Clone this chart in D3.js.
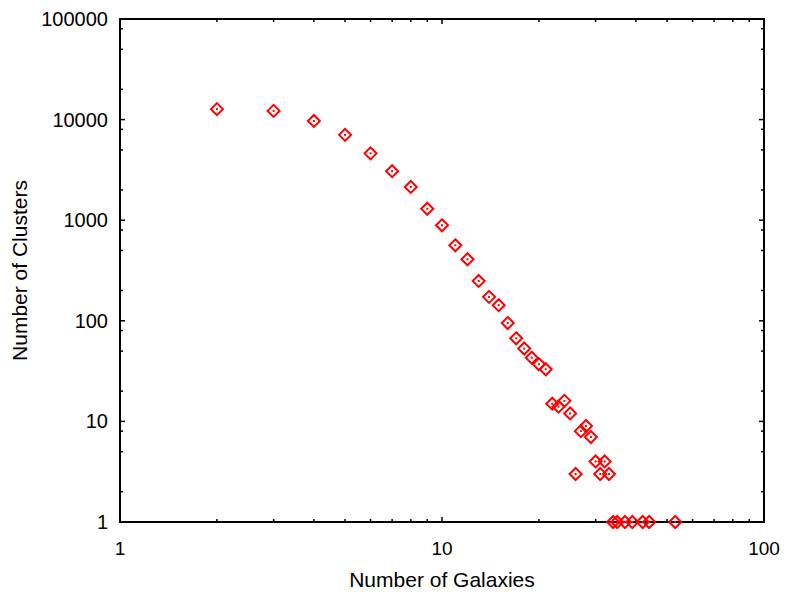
<!DOCTYPE html>
<html>
  <head>
    <style>
      body { margin: 0; background: #fff; }
      svg text { font-family: "Liberation Sans", Arial, sans-serif; fill: #000; }
    </style>
  </head>
  <body>
    <svg class="chart"></svg>

    <script src="https://d3js.org/d3.v7.min.js"></script>
    <script>
      // number of galaxies in a cluster
      var galaxies = [2, 3, 4, 5, 6, 7, 8, 9, 10, 11, 12, 13, 14, 15, 16, 17, 18, 19, 20,
        21, 22, 23, 24, 25, 26, 27, 28, 29, 30, 31, 32, 33, 34, 35, 37, 39, 42, 44, 53];
      // number of clusters with that many galaxies
      var clusters = [12700, 12200, 9700, 7050, 4620, 3070, 2140, 1300, 890, 563, 409, 249, 173, 143, 95, 67, 53, 43, 37,
        33, 15, 14, 16, 12, 3, 8, 9, 7, 4, 3, 4, 3, 1, 1, 1, 1, 1, 1, 1];

      var xTicks = [1, 10, 100];
      var yTicks = [1, 10, 100, 1000, 10000, 100000];
      var xMinor = [2, 3, 4, 5, 6, 7, 8, 9, 20, 30, 40, 50, 60, 70, 80, 90];
      var yMinor = [2, 5, 8, 20, 50, 80, 200, 500, 800, 2000, 5000, 8000, 20000, 50000, 80000];

      var width = 786, height = 596;
      var mLeft = 120, mRight = 764, mTop = 19, mBottom = 522;

      var x = d3.scaleLog().domain([1, 100]).range([mLeft, mRight]);
      var y = d3.scaleLog().domain([1, 100000]).range([mBottom, mTop]);

      var svg = d3.select(".chart").attr("width", width).attr("height", height);

      var data = galaxies.map(function (g, i) {
        return { g: g, c: clusters[i] };
      });

      // ticks on all four sides, pointing inward
      var tk = svg.append("g").attr("stroke", "#000").attr("stroke-width", 1.5);

      function yticks(vals, len) {
        vals.forEach(function (v) {
          tk.append("line").attr("x1", mLeft).attr("x2", mLeft + len)
            .attr("y1", y(v)).attr("y2", y(v));
          tk.append("line").attr("x1", mRight).attr("x2", mRight - len)
            .attr("y1", y(v)).attr("y2", y(v));
        });
      }
      function xticks(vals, len) {
        vals.forEach(function (v) {
          tk.append("line").attr("y1", mBottom).attr("y2", mBottom - len)
            .attr("x1", x(v)).attr("x2", x(v));
          tk.append("line").attr("y1", mTop).attr("y2", mTop + len)
            .attr("x1", x(v)).attr("x2", x(v));
        });
      }
      yticks(yMinor, 3);
      yticks(yTicks, 5);
      xticks(xMinor, 3);
      xticks(xTicks, 5);

      svg.append("rect")
        .attr("x", mLeft).attr("y", mTop)
        .attr("width", mRight - mLeft).attr("height", mBottom - mTop)
        .attr("fill", "none").attr("stroke", "#000").attr("stroke-width", 2);

      svg.selectAll(".ylab").data(yTicks).enter().append("text")
        .attr("x", mLeft - 12).attr("y", function (d) { return y(d); })
        .attr("dy", "0.35em").attr("text-anchor", "end")
        .style("font-size", "20px")
        .text(function (d) { return d; });

      svg.selectAll(".xlab").data(xTicks).enter().append("text")
        .attr("x", function (d) { return x(d); }).attr("y", mBottom + 26)
        .attr("dy", "0.35em").attr("text-anchor", "middle")
        .style("font-size", "19px")
        .text(function (d) { return d; });

      svg.append("text")
        .attr("x", (mLeft + mRight) / 2).attr("y", 587)
        .attr("text-anchor", "middle").style("font-size", "21px")
        .text("Number of Galaxies");

      svg.append("text")
        .attr("transform", "translate(27," + (mTop + mBottom) / 2 + ") rotate(-90)")
        .attr("text-anchor", "middle").style("font-size", "21px")
        .text("Number of Clusters");

      var pts = svg.append("g").selectAll("g").data(data).enter().append("g")
        .attr("transform", function (d) {
          return "translate(" + x(d.g) + "," + y(d.c) + ")";
        });

      pts.append("path")
        .attr("d", "M0,-6L6,0L0,6L-6,0Z")
        .attr("fill", "none").attr("stroke", "#ff0000").attr("stroke-width", 2);

      pts.append("rect")
        .attr("x", -1).attr("y", -1).attr("width", 2).attr("height", 2)
        .attr("fill", "#ff0000");
    </script>
  </body>
</html>
